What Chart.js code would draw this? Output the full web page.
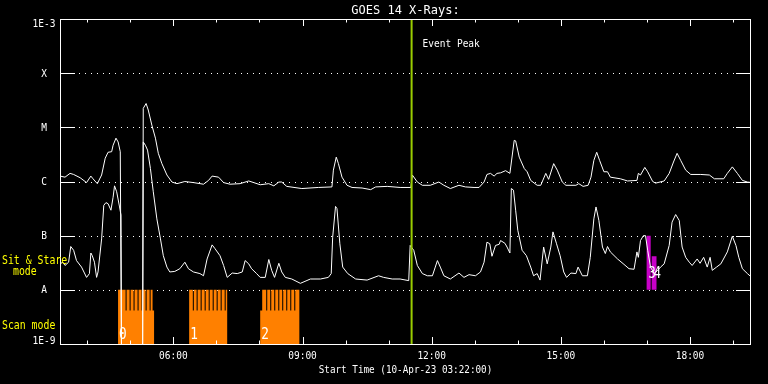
<!DOCTYPE html>
<html lang="en">
<head>
  <meta charset="UTF-8">
  <title>GOES 14 X-Rays</title>
  <style>
    body {
      margin: 0;
      padding: 0;
      background-color: #000;
    }
    #goesChart {
      display: block;
    }
  </style>
  <script src="https://cdn.jsdelivr.net/npm/chart.js"></script>
</head>
<body>

  <canvas id="goesChart" width="768" height="384"></canvas>

  <script>
    // time is minutes after the start time 03:22, flux is log10 (W/m^2)
    const startMinute = 3 * 60 + 22;
    const endMinute = 963;

    // 1-8 A channel (upper curve), -10 = no data
    const longFlux = [
      [0,-5.90],[7,-5.92],[14,-5.85],[19,-5.87],[28,-5.93],[37,-6.02],[43,-5.90],[46,-5.95],[52,-6.04],[58,-5.88],
      [63,-5.57],[67,-5.46],[72,-5.45],[74,-5.33],[78,-5.20],[81,-5.27],[84,-5.45],[86,-10],[115,-10],[116,-4.65],
      [120,-4.56],[123,-4.68],[128,-4.96],[133,-5.20],[137,-5.48],[142,-5.67],[149,-5.88],[156,-6.01],[163,-6.04],[174,-6.00],
      [186,-6.02],[200,-6.05],[207,-5.98],[212,-5.90],[221,-5.92],[228,-6.02],[237,-6.05],[251,-6.04],[263,-5.99],[270,-6.02],
      [279,-6.06],[291,-6.04],[298,-6.08],[305,-6.01],[309,-6.01],[316,-6.09],[337,-6.13],[360,-6.11],[379,-6.10],[381,-5.79],
      [385,-5.55],[388,-5.67],[393,-5.92],[400,-6.07],[407,-6.11],[421,-6.12],[433,-6.15],[440,-6.10],[456,-6.09],[474,-6.11],
      [489,-6.11],[491,-5.88],[498,-6.01],[505,-6.07],[516,-6.07],[528,-6.01],[535,-6.07],[544,-6.13],[556,-6.07],[565,-6.10],
      [577,-6.11],[584,-6.11],[591,-6.01],[595,-5.87],[600,-5.85],[605,-5.90],[609,-5.85],[614,-5.84],[621,-5.80],[627,-5.85],
      [633,-5.24],[635,-5.25],[640,-5.55],[647,-5.76],[651,-5.82],[656,-5.98],[665,-6.07],[670,-6.07],[677,-5.85],[681,-5.96],
      [688,-5.67],[693,-5.79],[700,-6.01],[705,-6.07],[719,-6.07],[723,-6.04],[729,-6.09],[736,-6.07],[740,-5.92],[744,-5.61],
      [748,-5.46],[752,-5.61],[758,-5.82],[763,-5.82],[767,-5.92],[781,-5.95],[791,-5.99],[804,-5.98],[806,-5.85],[809,-5.88],
      [815,-5.74],[819,-5.82],[826,-6.00],[830,-6.03],[842,-5.99],[849,-5.85],[855,-5.64],[860,-5.48],[865,-5.61],[872,-5.79],
      [879,-5.87],[893,-5.87],[905,-5.88],[912,-5.95],[925,-5.95],[930,-5.85],[937,-5.73],[944,-5.85],[951,-5.98],[958,-6.01],
      [964,-6.02]
    ];

    // 0.5-4 A channel (lower curve)
    const shortFlux = [
      [0,-7.52],[4,-7.49],[7,-7.55],[12,-7.49],[15,-7.20],[19,-7.27],[23,-7.46],[30,-7.58],[37,-7.77],[41,-7.70],
      [43,-7.32],[45,-7.37],[48,-7.49],[51,-7.77],[53,-7.67],[58,-7.06],[61,-6.44],[64,-6.39],[67,-6.41],[71,-6.53],
      [74,-6.29],[76,-6.08],[79,-6.19],[83,-6.47],[85,-6.62],[86,-10],[115,-10],[116,-5.27],[119,-5.33],[122,-5.42],
      [126,-5.76],[130,-6.19],[135,-6.69],[140,-7.06],[144,-7.37],[149,-7.58],[153,-7.67],[160,-7.66],[167,-7.61],[174,-7.49],
      [179,-7.61],[186,-7.67],[195,-7.70],[200,-7.74],[205,-7.43],[212,-7.17],[216,-7.24],[223,-7.37],[228,-7.55],[233,-7.77],
      [240,-7.69],[247,-7.70],[254,-7.67],[258,-7.46],[263,-7.52],[267,-7.61],[274,-7.70],[279,-7.77],[286,-7.77],[291,-7.44],
      [295,-7.64],[299,-7.77],[305,-7.51],[309,-7.67],[314,-7.77],[323,-7.80],[335,-7.88],[349,-7.80],[363,-7.80],[374,-7.77],
      [378,-7.70],[380,-7.03],[384,-6.46],[386,-6.50],[390,-7.15],[394,-7.58],[401,-7.70],[412,-7.80],[428,-7.82],[444,-7.74],
      [451,-7.77],[463,-7.80],[474,-7.80],[486,-7.83],[488,-7.18],[493,-7.27],[498,-7.55],[505,-7.70],[512,-7.74],[519,-7.74],
      [523,-7.58],[526,-7.46],[530,-7.58],[535,-7.74],[544,-7.80],[556,-7.69],[563,-7.77],[570,-7.72],[579,-7.74],[586,-7.67],
      [591,-7.49],[595,-7.12],[599,-7.15],[602,-7.38],[607,-7.18],[612,-7.16],[614,-7.09],[620,-7.14],[623,-7.21],[627,-7.32],
      [629,-6.13],[632,-6.16],[635,-6.53],[638,-6.90],[644,-7.27],[650,-7.37],[656,-7.58],[660,-7.74],[665,-7.70],[669,-7.82],
      [674,-7.21],[679,-7.52],[684,-7.21],[687,-6.93],[692,-7.15],[697,-7.37],[702,-7.67],[706,-7.77],[712,-7.69],[719,-7.70],
      [722,-7.58],[728,-7.74],[735,-7.74],[739,-7.40],[744,-6.69],[747,-6.47],[751,-6.72],[756,-7.21],[760,-7.33],[763,-7.20],
      [767,-7.30],[777,-7.43],[786,-7.53],[793,-7.61],[800,-7.62],[804,-7.30],[806,-7.40],[809,-7.09],[813,-7.00],[816,-7.00],
      [819,-7.27],[823,-7.58],[828,-7.70],[833,-7.64],[837,-7.58],[842,-7.52],[849,-7.18],[853,-6.75],[858,-6.61],[863,-6.72],
      [867,-7.21],[872,-7.40],[877,-7.49],[881,-7.55],[888,-7.43],[892,-7.51],[897,-7.40],[902,-7.58],[906,-7.40],[909,-7.64],
      [915,-7.58],[921,-7.52],[930,-7.30],[937,-7.01],[942,-7.18],[946,-7.40],[951,-7.61],[958,-7.70],[964,-7.77]
    ];

    // scan mode blocks: [low start, tall start, tall end, low end]
    const scanBlocks = [[80.9, 80.9, 129.0, 131.1], [180.0, 180.0, 233.0, 233.0], [279.0, 281.8, 333.9, 333.9]];
    const scanLabels = ['0', '1', '2'];
    const scanGaps = [91.4, 97.0, 102.5, 108.1, 113.7, 119.3, 124.9,
                      185.1, 190.4, 196.0, 201.6, 207.2, 212.8, 218.3, 223.9, 229.5,
                      287.4, 293.0, 298.6, 304.2, 309.7, 315.3, 320.9, 326.5];
    const gapLength = 1.4;
    const scanTall = -8.0;
    const scanLow = -8.38;

    // sit & stare blocks: [start, end, level]
    const stareBlocks = [[817.2, 823.2, -7.0], [824.6, 831.6, -7.38]];
    const stareLabels = ['3', '4'];

    const eventPeakMinute = 490;

    const yTickValues = [1e-9, 1e-8, 1e-7, 1e-6, 1e-5, 1e-4, 1e-3];
    const yTickLabels = ['1E-9', 'A', 'B', 'C', 'M', 'X', '1E-3'];
    const hourTicks = [4, 5, 6, 7, 8, 9, 10, 11, 12, 13, 14, 15, 16, 17, 18, 19];
    const hourLabels = ['06:00', '09:00', '12:00', '15:00', '18:00'];

    function toPoints(series) {
      return series.map(p => ({ x: p[0], y: Math.pow(10, p[1]) }));
    }

    function scanSteps() {
      const pts = [{ x: 0, y: 1e-9 }];
      scanBlocks.forEach(([lowStart, tallStart, tallEnd, lowEnd]) => {
        pts.push({ x: lowStart, y: Math.pow(10, scanLow) });
        pts.push({ x: tallStart, y: Math.pow(10, scanTall) });
        scanGaps.filter(g => g > tallStart && g < tallEnd).forEach(g => {
          pts.push({ x: g, y: Math.pow(10, scanLow) });
          pts.push({ x: g + gapLength, y: Math.pow(10, scanTall) });
        });
        pts.push({ x: tallEnd, y: Math.pow(10, scanLow) });
        pts.push({ x: lowEnd, y: 1e-9 });
      });
      return pts;
    }

    function stareSteps() {
      const pts = [];
      stareBlocks.forEach(([start, end, level]) => {
        pts.push({ x: start, y: Math.pow(10, level) });
        pts.push({ x: end, y: 1e-8 });
      });
      return pts;
    }

    // text helper, sx squeezes the glyphs sideways
    function txt(ctx, s, x, y, size, color, align, sx) {
      ctx.save();
      ctx.font = size + 'px "DejaVu Sans Mono"';
      ctx.fillStyle = color;
      ctx.textAlign = align;
      ctx.textBaseline = 'alphabetic';
      ctx.translate(x, y);
      ctx.scale(sx, 1);
      ctx.fillText(s, 0, 0);
      ctx.restore();
    }

    function hline(ctx, x1, x2, y) {
      ctx.beginPath();
      ctx.moveTo(x1, y);
      ctx.lineTo(x2, y);
      ctx.stroke();
    }

    const goesFrame = {
      id: 'goesFrame',
      beforeDraw(chart) {
        const ctx = chart.ctx;
        ctx.save();
        ctx.fillStyle = '#000';
        ctx.fillRect(0, 0, chart.width, chart.height);
        ctx.restore();
      },
      beforeDatasetsDraw(chart) {
        const ctx = chart.ctx;
        const a = chart.chartArea;
        const y = chart.scales.y;
        ctx.save();
        ctx.strokeStyle = '#fff';
        ctx.lineWidth = 1;
        yTickValues.slice(1, 6).forEach(v => {
          const py = Math.round(y.getPixelForValue(v)) + 0.5;
          ctx.setLineDash([]);
          hline(ctx, a.left, a.left + 15, py);
          hline(ctx, a.right - 15, a.right, py);
          ctx.setLineDash([1, 5]);
          hline(ctx, a.left + 19, a.right - 16, py);
        });
        ctx.restore();
      },
      afterDatasetsDraw(chart) {
        const ctx = chart.ctx;
        const a = chart.chartArea;
        const x = chart.scales.x;
        const y = chart.scales.y;
        ctx.save();

        // event peak marker
        const ex = x.getPixelForValue(eventPeakMinute);
        ctx.fillStyle = '#99cc00';
        ctx.fillRect(ex - 1, a.top, 2, a.bottom - a.top);
        txt(ctx, 'Event Peak', ex + 11, 47, 10, '#fff', 'left', 0.95);

        // frame
        ctx.strokeStyle = '#fff';
        ctx.lineWidth = 1;
        ctx.strokeRect(a.left + 0.5, a.top + 0.5, a.right - a.left - 1, a.bottom - a.top);

        // hour ticks on top and bottom
        hourTicks.forEach(h => {
          const px = Math.round(x.getPixelForValue(h * 60 - startMinute)) + 0.5;
          const len = h % 3 === 0 ? 7 : 3.5;
          ctx.beginPath();
          ctx.moveTo(px, a.top);
          ctx.lineTo(px, a.top + len);
          ctx.moveTo(px, a.bottom);
          ctx.lineTo(px, a.bottom - len);
          ctx.stroke();
        });
        hourLabels.forEach(s => {
          const m = parseInt(s, 10) * 60 - startMinute;
          txt(ctx, s, x.getPixelForValue(m), 358.5, 10, '#fff', 'center', 0.95);
        });

        // y labels
        yTickValues.forEach((v, i) => {
          let py = y.getPixelForValue(v) + 3.6;
          py = Math.min(Math.max(py, a.top + 8), a.bottom - 0.5);
          txt(ctx, yTickLabels[i], 44, py, 10, '#fff', 'center', 0.95);
        });

        // scan / stare numbers
        scanBlocks.forEach((b, i) => {
          txt(ctx, scanLabels[i], x.getPixelForValue(b[0]) + 1, 338.5, 15, '#fff', 'left', 0.85);
        });
        stareBlocks.forEach((b, i) => {
          txt(ctx, stareLabels[i], x.getPixelForValue(b[0]) + 2, 277.5, 15, '#fff', 'left', 0.8);
        });

        // titles and side labels
        const cx = (a.left + a.right) / 2;
        txt(ctx, 'GOES 14 X-Rays:', cx, 14, 12, '#fff', 'center', 1);
        txt(ctx, 'Start Time (10-Apr-23 03:22:00)', cx, 372.5, 10, '#fff', 'center', 0.93);
        txt(ctx, 'Sit & Stare', 2, 263.5, 12, '#ffff00', 'left', 0.82);
        txt(ctx, 'mode', 13, 275, 12, '#ffff00', 'left', 0.82);
        txt(ctx, 'Scan mode', 2, 328.5, 12, '#ffff00', 'left', 0.82);

        ctx.restore();
      }
    };

    new Chart(document.getElementById('goesChart'), {
      type: 'line',
      data: {
        datasets: [
          {
            label: 'Long',
            data: toPoints(longFlux),
            borderColor: '#fff',
            borderWidth: 1,
            pointRadius: 0,
            fill: false,
            order: 0
          },
          {
            label: 'Short',
            data: toPoints(shortFlux),
            borderColor: '#fff',
            borderWidth: 1,
            pointRadius: 0,
            fill: false,
            order: 1
          },
          {
            label: 'Scan',
            data: scanSteps(),
            stepped: true,
            borderWidth: 0,
            borderColor: 'rgba(0,0,0,0)',
            backgroundColor: '#ff8000',
            pointRadius: 0,
            fill: 'start',
            order: 2
          },
          {
            label: 'Stare',
            data: stareSteps(),
            stepped: true,
            borderWidth: 0,
            borderColor: 'rgba(0,0,0,0)',
            backgroundColor: '#c800c8',
            pointRadius: 0,
            fill: { value: 1e-8 },
            order: 3
          }
        ]
      },
      options: {
        responsive: false,
        animation: false,
        devicePixelRatio: 1,
        layout: { padding: { left: 60, right: 17, top: 19, bottom: 40 } },
        plugins: {
          legend: { display: false },
          tooltip: { enabled: false }
        },
        scales: {
          x: { type: 'linear', min: 0, max: endMinute, display: false },
          y: { type: 'logarithmic', min: 1e-9, max: 1e-3, display: false }
        }
      },
      plugins: [goesFrame]
    });
  </script>

</body>
</html>
